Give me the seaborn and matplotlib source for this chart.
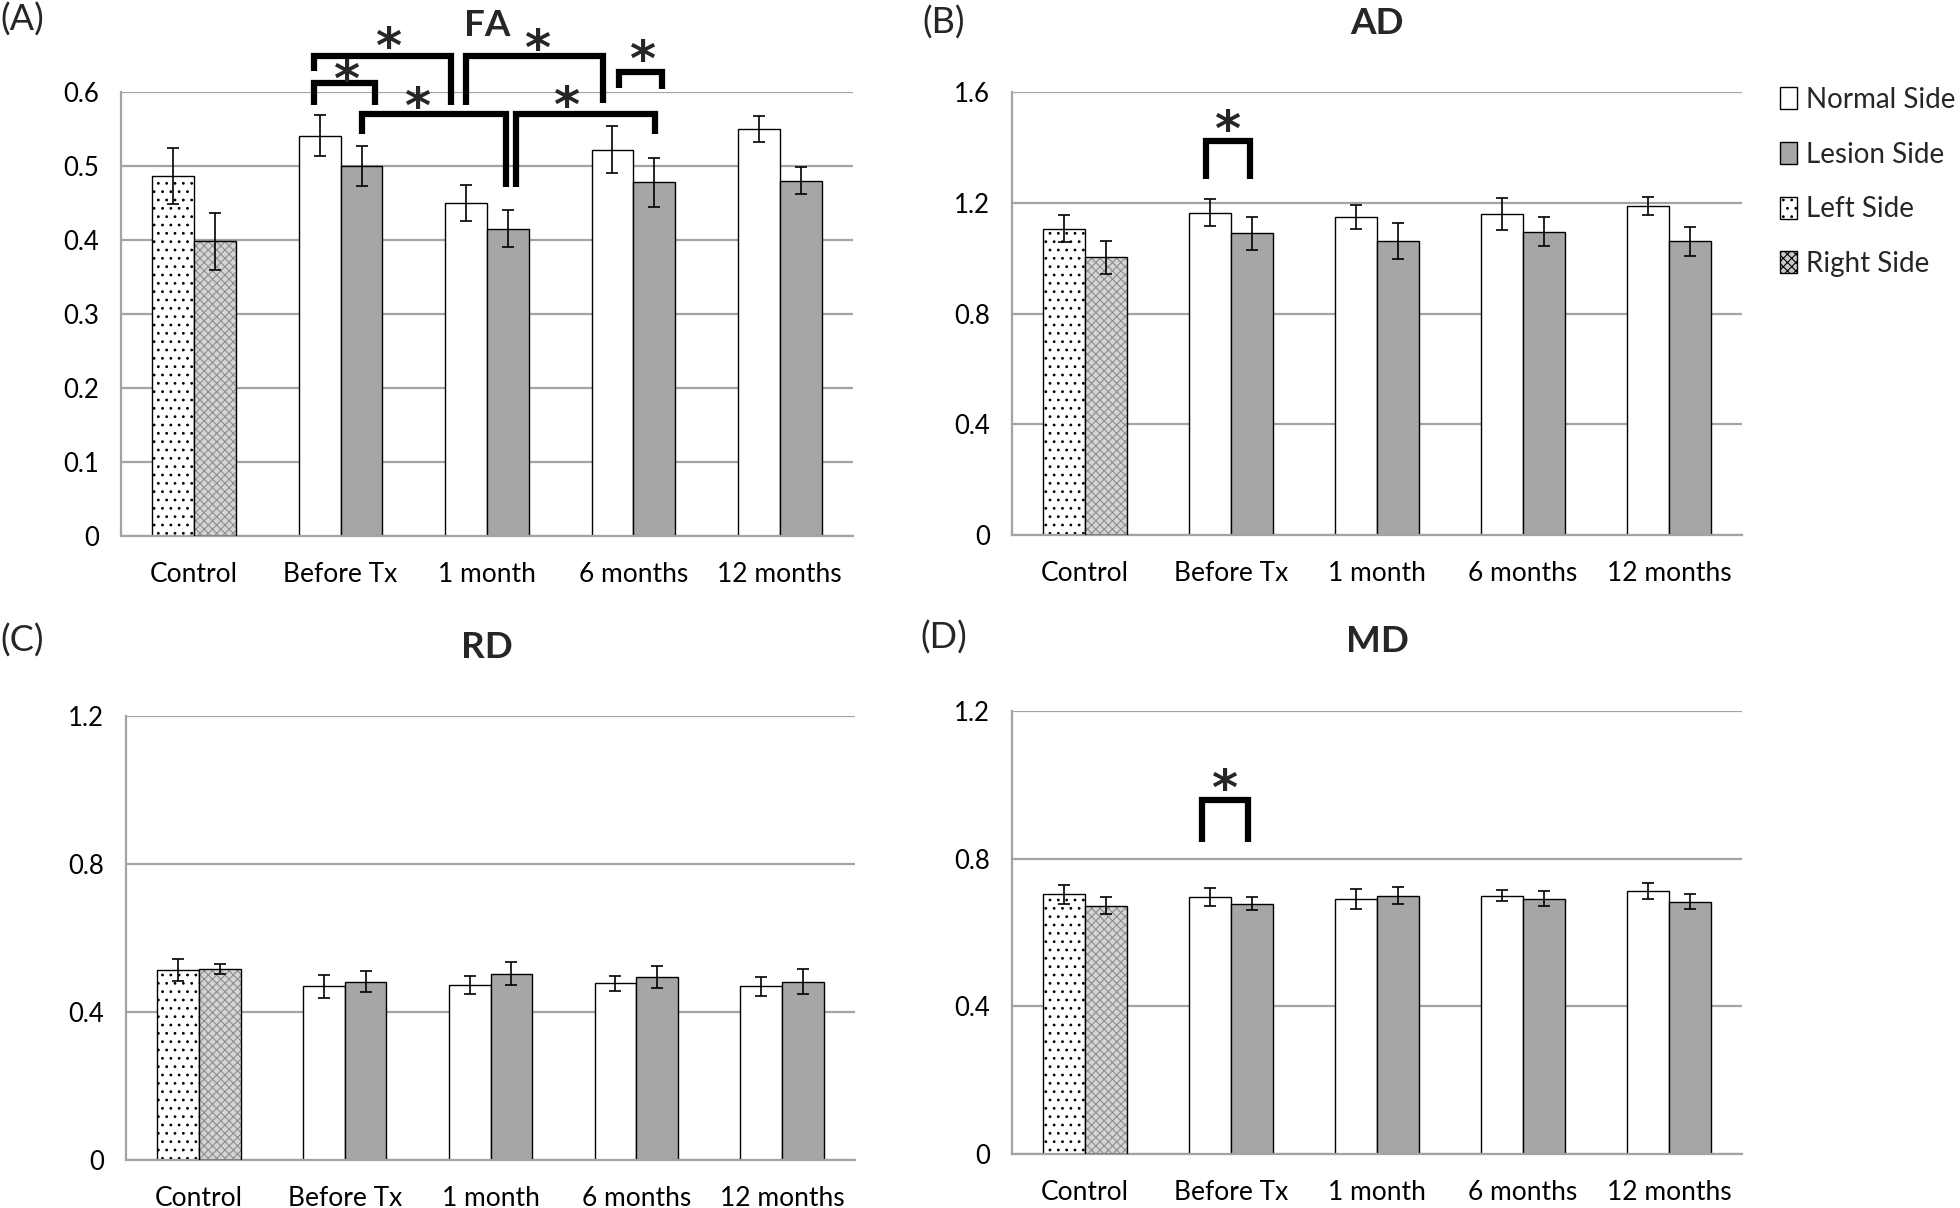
import pandas as pd
import matplotlib.pyplot as plt
import seaborn as sns
from matplotlib.patches import Patch, Rectangle

# --- data ---
categories = ["Control", "Before Tx", "1 month", "6 months", "12 months"]

fa_first = [0.487, 0.541, 0.450, 0.522, 0.550]
fa_first_err = [0.038, 0.028, 0.024, 0.032, 0.017]
fa_second = [0.398, 0.500, 0.415, 0.478, 0.480]
fa_second_err = [0.038, 0.027, 0.025, 0.033, 0.018]

ad_first = [1.106, 1.164, 1.148, 1.159, 1.188]
ad_first_err = [0.049, 0.048, 0.044, 0.059, 0.032]
ad_second = [1.003, 1.090, 1.061, 1.095, 1.061]
ad_second_err = [0.059, 0.059, 0.065, 0.052, 0.052]

rd_first = [0.513, 0.469, 0.473, 0.478, 0.469]
rd_first_err = [0.030, 0.031, 0.024, 0.020, 0.025]
rd_second = [0.516, 0.482, 0.503, 0.495, 0.482]
rd_second_err = [0.013, 0.028, 0.031, 0.029, 0.033]

md_first = [0.704, 0.696, 0.692, 0.700, 0.713]
md_first_err = [0.026, 0.024, 0.027, 0.014, 0.022]
md_second = [0.673, 0.678, 0.700, 0.692, 0.683]
md_second_err = [0.024, 0.018, 0.024, 0.020, 0.020]

legend_labels = ["Normal Side", "Lesion Side", "Left Side", "Right Side"]

# significance brackets: (x_left, x_right, y_top, y_leg_left, y_leg_right, x_star, y_star)
fa_brackets = [
    (0.817, 1.235, 0.612, 0.583, 0.583, 1.04, 0.625),
    (0.817, 1.755, 0.649, 0.628, 0.583, 1.324, 0.669),
    (1.855, 2.792, 0.649, 0.583, 0.585, 2.34, 0.667),
    (2.905, 3.197, 0.627, 0.606, 0.604, 3.06, 0.652),
    (1.148, 2.128, 0.570, 0.543, 0.471, 1.52, 0.589),
    (2.196, 3.145, 0.570, 0.471, 0.543, 2.54, 0.590),
]
ad_brackets = [(0.826, 1.131, 1.422, 1.284, 1.284, 0.97, 1.488)]
md_brackets = [(0.80, 1.116, 0.959, 0.846, 0.846, 0.95, 1.006)]

WHITE = "#ffffff"
GRAY = "#a6a6a6"
GRID = "#a3a3a3"
STAR_SIZE = 36

sns.set_style("white")
plt.rcParams["font.family"] = ["Lato", "DejaVu Sans"]
plt.rcParams["hatch.linewidth"] = 0.8

W, H = 1960, 1208
fig = plt.figure(figsize=(W / 100, H / 100), dpi=100)


def box(left, right, top, bottom):
    return [left / W, 1 - bottom / H, (right - left) / W, (bottom - top) / H]


def panel(rect, first, first_err, second, second_err, ymax, ystep, title, title_xy,
          label, label_xy, brackets):
    ax = fig.add_axes(rect)
    df = pd.DataFrame({
        "group": categories * 2,
        "side": ["first"] * 5 + ["second"] * 5,
        "value": first + second,
    })
    sns.barplot(data=df, x="group", y="value", hue="side", order=categories,
                hue_order=["first", "second"], palette={"first": WHITE, "second": GRAY},
                width=0.572, errorbar=None, edgecolor="black", linewidth=1.0,
                saturation=1, legend=False, ax=ax)

    # error bars
    for cont, vals, errs in zip(ax.containers, [first, second], [first_err, second_err]):
        xs = [b.get_x() + b.get_width() / 2 for b in cont]
        ax.errorbar(xs, vals, yerr=errs, fmt="none", ecolor="black", elinewidth=1.2,
                    capsize=4.5, capthick=1.2, zorder=5)

    # control bars: patterned Left / Right sides
    left_bar = ax.containers[0][0]
    left_bar.set_hatch("..")
    right_bar = ax.containers[1][0]
    right_bar.set_facecolor("#d4d4d4")
    right_bar.set_edgecolor("#8e8e8e")
    right_bar.set_hatch("xxxx")
    right_bar.set_linewidth(0)
    ax.add_patch(Rectangle(right_bar.get_xy(), right_bar.get_width(), right_bar.get_height(),
                           fill=False, edgecolor="black", linewidth=1.0, zorder=3))

    ax.set_xlim(-0.5, 4.5)
    ax.set_ylim(0, ymax)
    ax.set_yticks([round(i * ystep, 2) for i in range(int(round(ymax / ystep)) + 1)])
    ax.set_yticklabels([f"{t:g}" for t in ax.get_yticks()])
    ax.set_xticks(range(5))
    ax.set_xticklabels(categories)
    ax.set_xticks([i - 0.5 for i in range(6)], minor=True)
    ax.set_xlabel("")
    ax.set_ylabel("")
    ax.yaxis.grid(True, color=GRID, linewidth=1.6)
    ax.set_axisbelow(True)
    for s in ["top", "right"]:
        ax.spines[s].set_visible(False)
    for s in ["left", "bottom"]:
        ax.spines[s].set_color(GRID)
        ax.spines[s].set_linewidth(1.6)
    ax.tick_params(axis="x", which="major", length=0, pad=19, labelsize=19, colors="black")
    ax.tick_params(axis="x", which="minor", length=7, width=1.6, color=GRID)
    ax.tick_params(axis="y", length=6, width=1.6, color=GRID, pad=10, labelsize=18.5,
                   labelcolor="black")

    for x1, x2, yt, y1, y2, xs, ys in brackets:
        ax.plot([x1, x1, x2, x2], [y1, yt, yt, y2], color="black", lw=4.5,
                solid_joinstyle="miter", solid_capstyle="butt", clip_on=False, zorder=6)
        ax.annotate("*", (xs, ys), xytext=(0, -0.45 * STAR_SIZE), textcoords="offset points",
                    ha="center", va="baseline", fontsize=STAR_SIZE, fontweight="bold",
                    family="DejaVu Sans", annotation_clip=False, zorder=6)

    fig.text(title_xy[0] / W, 1 - title_xy[1] / H, title, ha="center", va="center",
             fontsize=26.5, fontweight="bold")
    fig.text(label_xy[0] / W, 1 - label_xy[1] / H, label, ha="left", va="center", fontsize=26)
    return ax


panel(box(121, 853, 92, 536), fa_first, fa_first_err, fa_second, fa_second_err,
      0.6, 0.1, "FA", (487, 25), "(A)", (0, 20), fa_brackets)
panel(box(1012, 1742, 92, 535), ad_first, ad_first_err, ad_second, ad_second_err,
      1.6, 0.4, "AD", (1377, 24), "(B)", (922, 23), ad_brackets)
panel(box(126, 855, 716, 1160), rd_first, rd_first_err, rd_second, rd_second_err,
      1.2, 0.4, "RD", (487, 647), "(C)", (0, 641), [])
panel(box(1012, 1742, 711, 1154), md_first, md_first_err, md_second, md_second_err,
      1.2, 0.4, "MD", (1377, 642), "(D)", (920, 638), md_brackets)

handles = [
    Patch(facecolor=WHITE, edgecolor="black", linewidth=1.0),
    Patch(facecolor=GRAY, edgecolor="black", linewidth=1.0),
    Patch(facecolor=WHITE, edgecolor="black", linewidth=1.0, hatch=".."),
    Patch(facecolor="#c8c8c8", edgecolor="black", linewidth=1.0, hatch="xxxx"),
]
fig.legend(handles, legend_labels, loc="upper left", bbox_to_anchor=(1780 / W, 1 - 87 / H),
           frameon=False, fontsize=20, handlelength=0.6, handleheight=0.85,
           handletextpad=0.35, labelspacing=1.03, borderaxespad=0, borderpad=0)

fig.savefig("out.png", dpi=100)
